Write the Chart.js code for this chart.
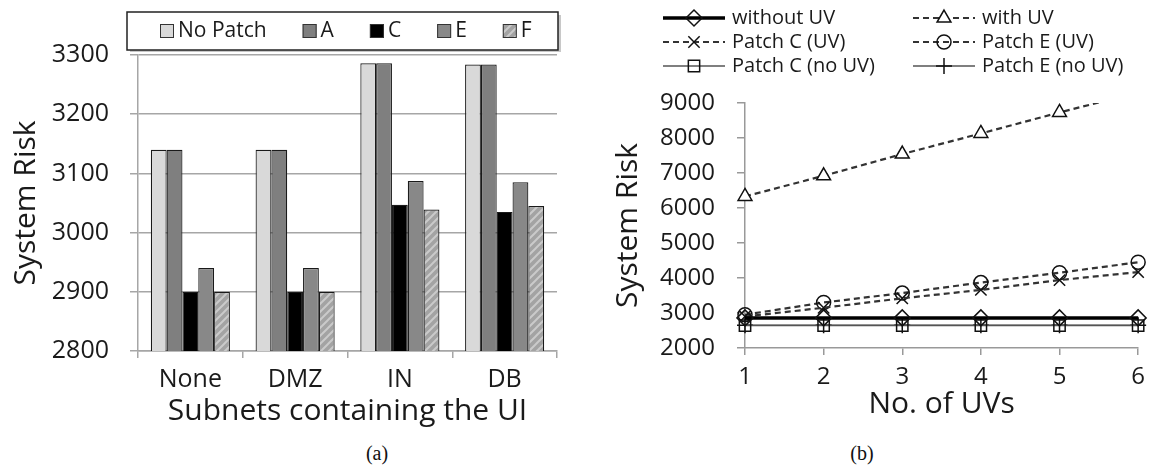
<!DOCTYPE html>
<html lang="en">
<head>
<meta charset="UTF-8">
<title>System Risk</title>
<script src="https://cdn.jsdelivr.net/npm/chart.js"></script>
<style>
  body { margin: 0; background: #fff; width: 1153px; height: 466px; overflow: hidden; position: relative; }
  #chartA { position: absolute; left: 0; top: 0; }
  #chartB { position: absolute; left: 590px; top: 0; }
  .caption { position: absolute; top: 442px; font-family: "Liberation Serif", serif; font-size: 20px; line-height: 22px; color: #111; transform: translateX(-50%); }
</style>
</head>
<body>
<canvas id="chartA" width="580" height="440"></canvas>
<canvas id="chartB" width="563" height="440"></canvas>
<div class="caption" style="left:377px">(a)</div>
<div class="caption" style="left:862px">(b)</div>

<script>
// (a) system risk per subnet containing the UI
const subnets = ['None', 'DMZ', 'IN', 'DB'];
const riskNoPatch = [3140, 3140, 3286, 3284];
const riskPatchA  = [3140, 3140, 3286, 3284];
const riskPatchC  = [2900, 2900, 3047, 3035];
const riskPatchE  = [2940, 2940, 3087, 3085];
const riskPatchF  = [2900, 2900, 3039, 3045];

// (b) system risk vs number of UVs
const uvCounts   = ['1', '2', '3', '4', '5', '6'];
const withoutUV  = [2860, 2860, 2860, 2860, 2860, 2860];
const withUV     = [6330, 6920, 7540, 8130, 8730, 9300];
const patchCUV   = [2900, 3150, 3420, 3660, 3940, 4170];
const patchEUV   = [2950, 3300, 3570, 3870, 4150, 4450];
const patchCNoUV = [2640, 2640, 2640, 2640, 2640, 2640];
const patchENoUV = [2650, 2650, 2650, 2650, 2650, 2650];

const fontName = '"Open Sans", sans-serif';
Chart.defaults.font.family = fontName;
Chart.defaults.color = '#1a1a1a';

const axisGrey = '#a6a6a6';
const plain = v => String(v);   // no thousands separator

function hatch(base, stripe) {
    const c = document.createElement('canvas');
    c.width = 8; c.height = 8;
    const g = c.getContext('2d');
    g.fillStyle = base;
    g.fillRect(0, 0, 8, 8);
    g.strokeStyle = stripe;
    g.lineWidth = 2;
    g.beginPath();
    g.moveTo(0, 8); g.lineTo(8, 0);
    g.moveTo(-2, 2); g.lineTo(2, -2);
    g.moveTo(6, 10); g.lineTo(10, 6);
    g.stroke();
    return g.createPattern(c, 'repeat');
}

// single-row boxed legend like the Excel one
const barLegend = {
    id: 'barLegend',
    afterDraw(chart) {
        const ctx = chart.ctx;
        ctx.save();
        ctx.fillStyle = '#c8c8c8';
        ctx.fillRect(130, 48, 431, 4);
        ctx.fillRect(557, 15, 4, 37);
        ctx.fillStyle = '#fff';
        ctx.fillRect(127, 12, 431, 38);
        ctx.strokeStyle = '#222';
        ctx.lineWidth = 1.5;
        ctx.strokeRect(127, 12, 431, 38);
        ctx.font = '21px ' + fontName;
        ctx.textBaseline = 'middle';
        let x = 160;
        chart.data.datasets.forEach(ds => {
            ctx.fillStyle = ds.backgroundColor;
            ctx.fillRect(x, 24, 14, 14);
            ctx.strokeStyle = '#333';
            ctx.lineWidth = 1;
            ctx.strokeRect(x + 0.5, 24.5, 13, 13);
            ctx.fillStyle = '#1a1a1a';
            ctx.fillText(ds.label, x + 18, 31);
            x += 18 + ctx.measureText(ds.label).width + 36;
        });
        ctx.restore();
    }
};

new Chart(document.getElementById('chartA'), {
    type: 'bar',
    data: {
        labels: subnets,
        datasets: [
            { label: 'No Patch', data: riskNoPatch, backgroundColor: '#d9d9d9' },
            { label: 'A', data: riskPatchA, backgroundColor: '#7f7f7f' },
            { label: 'C', data: riskPatchC, backgroundColor: '#000000' },
            { label: 'E', data: riskPatchE, backgroundColor: '#888888' },
            { label: 'F', data: riskPatchF, backgroundColor: hatch('#a3a3a3', '#cacaca') }
        ].map(d => Object.assign(d, { borderColor: '#1a1a1a', borderWidth: 1.2, categoryPercentage: 0.755, barPercentage: 1 }))
    },
    options: {
        responsive: false,
        animation: false,
        layout: { padding: { top: 55, right: 23, bottom: 0, left: 0 } },
        plugins: { legend: { display: false }, tooltip: { enabled: false } },
        scales: {
            x: {
                grid: { drawOnChartArea: false, tickLength: 7, color: axisGrey, lineWidth: 1.5 },
                border: { color: axisGrey, width: 1.5 },
                ticks: { font: { size: 25 }, padding: 7 },
                title: { display: true, text: 'Subnets containing the UI', font: { size: 30 }, padding: { top: 0, bottom: 11 } },
                afterFit(s) { s.height = 89; }
            },
            y: {
                min: 2800, max: 3300,
                ticks: { stepSize: 100, font: { size: 25 }, padding: 21, callback: plain },
                grid: { color: axisGrey, lineWidth: 1.5, tickLength: 8 },
                border: { color: axisGrey, width: 1.5 },
                title: { display: true, text: 'System Risk', font: { size: 30 }, padding: { top: 8, bottom: 0 } },
                afterFit(s) { s.width = 138; }
            }
        }
    },
    plugins: [barLegend]
});

// two-column legend with line samples and markers
const lineLegend = {
    id: 'lineLegend',
    afterDraw(chart) {
        const ctx = chart.ctx;
        const cols = [73, 323], rows = [18, 42, 66];
        ctx.save();
        ctx.font = '20px ' + fontName;
        ctx.textBaseline = 'middle';
        chart.data.datasets.forEach((ds, i) => {
            const x = cols[i % 2], y = rows[Math.floor(i / 2)];
            ctx.strokeStyle = ds.borderColor;
            ctx.lineWidth = ds.borderWidth;
            ctx.setLineDash(ds.borderDash || []);
            ctx.beginPath();
            ctx.moveTo(x, y); ctx.lineTo(x + 62, y);
            ctx.stroke();
            ctx.setLineDash([]);
            ctx.strokeStyle = '#111';
            ctx.fillStyle = ds.pointBackgroundColor;
            ctx.lineWidth = 1.5;
            Chart.helpers.drawPoint(ctx, { pointStyle: ds.pointStyle, radius: ds.pointRadius, rotation: 0, borderWidth: 1.5 }, x + 31, y);
            ctx.fillStyle = '#1a1a1a';
            ctx.fillText(ds.label, x + 69, y);
        });
        ctx.restore();
    }
};

const dashed = [6, 4];
const clear = 'rgba(255,255,255,0)';

new Chart(document.getElementById('chartB'), {
    type: 'line',
    data: {
        labels: uvCounts,
        datasets: [
            { label: 'without UV', data: withoutUV, borderColor: '#000', borderWidth: 3.5, pointStyle: 'rectRot', pointRadius: 8, pointBackgroundColor: clear },
            { label: 'with UV', data: withUV, borderColor: '#333', borderWidth: 2.2, borderDash: dashed, pointStyle: 'triangle', pointRadius: 8, pointBackgroundColor: '#fff',
              clip: { left: 15, top: 0, right: 15, bottom: 15 } },
            { label: 'Patch C (UV)', data: patchCUV, borderColor: '#333', borderWidth: 2.2, borderDash: dashed, pointStyle: 'crossRot', pointRadius: 8, pointBackgroundColor: clear },
            { label: 'Patch E (UV)', data: patchEUV, borderColor: '#333', borderWidth: 2.2, borderDash: dashed, pointStyle: 'circle', pointRadius: 7, pointBackgroundColor: clear },
            { label: 'Patch C (no UV)', data: patchCNoUV, borderColor: '#555', borderWidth: 1.5, pointStyle: 'rect', pointRadius: 8, pointBackgroundColor: clear },
            { label: 'Patch E (no UV)', data: patchENoUV, borderColor: '#555', borderWidth: 1.5, pointStyle: 'cross', pointRadius: 8, pointBackgroundColor: clear }
        ].map(d => Object.assign({ pointBorderColor: '#111', pointBorderWidth: 1.5, fill: false, tension: 0, clip: false }, d))
    },
    options: {
        responsive: false,
        animation: false,
        layout: { padding: { top: 103, right: 10, bottom: 0, left: 0 } },
        plugins: { legend: { display: false }, tooltip: { enabled: false } },
        scales: {
            x: {
                grid: { drawOnChartArea: false, tickLength: 7, color: '#999', lineWidth: 1.5 },
                border: { color: '#999', width: 1.5 },
                ticks: { font: { size: 24 }, padding: 8 },
                title: { display: true, text: 'No. of UVs', font: { size: 30 }, padding: { top: 0, bottom: 18 } },
                afterFit(s) { s.height = 92; }
            },
            y: {
                min: 2000, max: 9000,
                ticks: { stepSize: 1000, font: { size: 24 }, padding: 22, callback: plain },
                grid: { drawOnChartArea: false, tickLength: 8, color: '#999', lineWidth: 1.5 },
                border: { color: '#999', width: 1.5 },
                title: { display: true, text: 'System Risk', font: { size: 30 }, padding: { top: 20, bottom: 0 } },
                afterFit(s) { s.width = 155; }
            }
        }
    },
    plugins: [lineLegend]
});
</script>
</body>
</html>
